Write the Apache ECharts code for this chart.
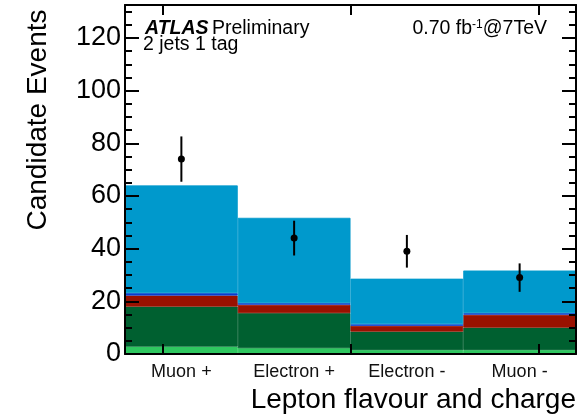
<!DOCTYPE html>
<html>
<head>
<meta charset="utf-8">
<script src="https://cdn.jsdelivr.net/npm/echarts@6/dist/echarts.min.js"></script>
<style>html,body{margin:0;padding:0;background:#fff}#c{width:581px;height:419px}</style>
</head>
<body>
<div id="c"></div>
<script>
// ---- data ----
const categories = ['Muon +', 'Electron +', 'Electron -', 'Muon -'];
const lightGreen = [2.8, 2.2, 1.5, 1.5];
const darkGreen  = [15.2, 13.3, 7.0, 8.5];
const red        = [4.2, 3.2, 2.2, 4.9];
const darkBlue   = [0.9, 0.6, 0.6, 0.6];
const lightBlue  = [40.9, 32.4, 17.3, 16.2];
const observed   = [74, 44, 39, 29];
const obsError   = [8.6, 6.6, 6.2, 5.4];
const yTickStep = 20;
const xTickPositions = [1/3, 2, 11/3];

const FONT = 'Liberation Sans, Arial, Helvetica, sans-serif';
const chart = echarts.init(document.getElementById('c'), null, {renderer: 'canvas'});

function barSeries(name, data, color) {
  return {
    name, type: 'bar', stack: 'mc', data, xAxisIndex: 0, yAxisIndex: 0,
    barWidth: '100%', barCategoryGap: 0,
    itemStyle: {color, borderColor: color, borderWidth: 0.8},
    emphasis: {disabled: true}, silent: true, animation: false
  };
}

const yCommon = {
  type: 'value', min: 0, max: 132.5, interval: yTickStep, z: 10,
  splitLine: {show: false},
  axisLine: {show: true, onZero: false, lineStyle: {color: '#000', width: 2}},
  axisTick: {show: true, inside: true, length: 14, lineStyle: {color: '#000', width: 2}},
  minorTick: {show: true, splitNumber: 4, length: 7, lineStyle: {color: '#000', width: 2}},
  minorSplitLine: {show: false}
};

const xValCommon = {
  type: 'value', min: 0, max: 4, z: 10, gridIndex: 0,
  splitLine: {show: false},
  axisLabel: {show: false},
  axisLine: {show: true, onZero: false, lineStyle: {color: '#000', width: 2}},
  axisTick: {show: true, inside: true, length: 10, customValues: xTickPositions, lineStyle: {color: '#000', width: 2}}
};

chart.setOption({
  animation: false,
  grid: {left: 125, right: 5, top: 5, bottom: 65, containLabel: false},
  xAxis: [
    {
      type: 'category', data: categories, position: 'bottom', boundaryGap: true,
      axisLine: {show: false}, axisTick: {show: false}, splitLine: {show: false},
      axisLabel: {color: '#111', fontFamily: FONT, fontSize: 18, margin: 9}
    },
    Object.assign({}, xValCommon, {position: 'bottom'}),
    Object.assign({}, xValCommon, {position: 'top'})
  ],
  yAxis: [
    Object.assign({}, yCommon, {
      position: 'left',
      axisLabel: {show: true, color: '#000', fontFamily: FONT, fontSize: 27, margin: 4,
        formatter: v => (v % yTickStep === 0 ? String(v) : '')}
    }),
    Object.assign({}, yCommon, {position: 'right', axisLabel: {show: false}})
  ],
  series: [
    barSeries('lightgreen', lightGreen, '#2fc760'),
    barSeries('darkgreen', darkGreen, '#006030'),
    barSeries('red', red, '#991100'),
    barSeries('darkblue', darkBlue, '#0a3fd0'),
    barSeries('lightblue', lightBlue, '#0099cc'),
    {
      type: 'custom', xAxisIndex: 0, yAxisIndex: 0, z: 20, silent: true,
      data: observed.map((v, i) => [i, v, obsError[i]]),
      renderItem: function (params, api) {
        const i = api.value(0), v = api.value(1), e = api.value(2);
        const c = api.coord([i, v]);
        const hi = api.coord([i, v + e]);
        const lo = api.coord([i, v - e]);
        return {
          type: 'group',
          children: [
            {type: 'line', shape: {x1: c[0], y1: hi[1], x2: c[0], y2: lo[1]},
             style: {stroke: '#000', lineWidth: 2}},
            {type: 'circle', shape: {cx: c[0], cy: c[1], r: 3.5}, style: {fill: '#000'}}
          ]
        };
      }
    }
  ],
  graphic: [
    {type: 'text', x: 38, y: 120, rotation: Math.PI / 2,
     style: {text: 'Candidate Events', fontFamily: FONT, fontSize: 28, fill: '#000',
       align: 'center', verticalAlign: 'middle'}},
    {type: 'text', x: 576, y: 400,
     style: {text: 'Lepton flavour and charge', fontFamily: FONT, fontSize: 28, fill: '#000',
       align: 'right', verticalAlign: 'middle'}},
    {type: 'text', x: 145, y: 29,
     style: {text: '{b|ATLAS} {n|Preliminary}', fill: '#000', verticalAlign: 'middle',
       rich: {b: {fontFamily: FONT, fontSize: 19.5, fontWeight: 'bold', fontStyle: 'italic'},
              n: {fontFamily: FONT, fontSize: 19.5}}}},
    {type: 'text', x: 143, y: 45,
     style: {text: '2 jets 1 tag', fontFamily: FONT, fontSize: 19.5, fill: '#000', verticalAlign: 'middle'}},
    {type: 'text', x: 547, y: 29,
     style: {text: '{n|0.70 fb}{s|-1}{n|@7TeV}', align: 'right', verticalAlign: 'middle', fill: '#000',
       rich: {n: {fontFamily: FONT, fontSize: 19.5, verticalAlign: 'bottom'},
              s: {fontFamily: FONT, fontSize: 12, verticalAlign: 'top'}}}}
  ]
});
</script>
</body>
</html>
